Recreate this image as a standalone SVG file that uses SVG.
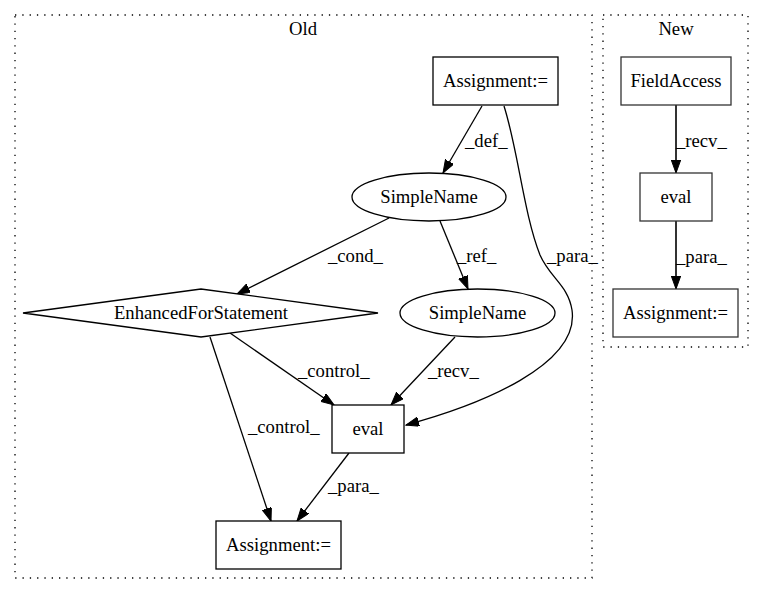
<svg xmlns="http://www.w3.org/2000/svg" width="765" height="596" viewBox="0 0 765 596" font-family="'Liberation Serif', 'Times New Roman', Times, serif">
<defs>
<style>
text{font-family:'Liberation Serif','Times New Roman',Times,serif;font-size:18.67px;fill:#000}
.c{text-anchor:middle}
.n{fill:#fff;stroke:#000;stroke-width:1.3}
.cl{fill:none;stroke:#000;stroke-width:1.3;stroke-dasharray:1.3,6}
.e{fill:none;stroke:#000;stroke-width:1.3;marker-end:url(#ah)}
.e2{fill:none;stroke:#333;stroke-width:2;marker-end:url(#ah2)}
</style>
<marker id="ah" markerUnits="userSpaceOnUse" markerWidth="14" markerHeight="10" refX="13" refY="4.7" orient="auto">
<path d="M0,0 L13,4.7 L0,9.4 z" fill="#000" stroke="#000" stroke-width="1"/>
</marker>
<marker id="ah2" markerUnits="userSpaceOnUse" markerWidth="14" markerHeight="10" refX="13" refY="4.7" orient="auto">
<path d="M0,0 L13,4.7 L0,9.4 z" fill="#000" stroke="#000" stroke-width="1"/>
</marker>
</defs>
<rect width="765" height="596" fill="#fff"/>
<g id="cluster_old">
<rect class="cl" x="15" y="15" width="577" height="563"/>
<text class="c" x="303" y="35">Old</text>
</g>
<g id="cluster_new">
<rect class="cl" x="603" y="15" width="145" height="332"/>
<text class="c" x="676" y="35">New</text>
</g>
<g id="edges">
<path class="e" d="M482,106 L443,173"/>
<text x="465" y="147">_def_</text>
<path class="e" d="M504,106 C518,150 524,215 540,255 C550,278 568,285 572,310 C580,365 480,405 406,425"/>
<text x="547" y="262">_para_</text>
<path class="e" d="M389,218 L237,294"/>
<text x="328" y="262">_cond_</text>
<path class="e" d="M440,221 L468,289"/>
<text x="457" y="262">_ref_</text>
<path class="e" d="M230,333 L334,405"/>
<text x="298" y="377">_control_</text>
<path class="e" d="M455,337 L391,405"/>
<text x="428" y="377">_recv_</text>
<path class="e" d="M210,337 L271,521"/>
<text x="248" y="433">_control_</text>
<path class="e" d="M349,453 L297,521"/>
<text x="328" y="492">_para_</text>
<path class="e2" d="M676,105 L676,173"/>
<text x="676" y="147">_recv_</text>
<path class="e2" d="M676,221 L676,289"/>
<text x="676" y="263">_para_</text>
</g>
<g id="old_assign_top">
<rect class="n" x="433" y="57" width="125" height="48"/>
<text class="c" x="495.5" y="87">Assignment:=</text>
</g>
<g id="old_simplename1">
<ellipse class="n" cx="429" cy="197" rx="77" ry="24"/>
<text class="c" x="429" y="203">SimpleName</text>
</g>
<g id="old_enhancedfor">
<polygon class="n" points="23,313 201,289 378,313 201,337"/>
<text class="c" x="201" y="319">EnhancedForStatement</text>
</g>
<g id="old_simplename2">
<ellipse class="n" cx="477.5" cy="313" rx="77.5" ry="24"/>
<text class="c" x="477.5" y="319">SimpleName</text>
</g>
<g id="old_eval">
<rect class="n" x="332" y="405" width="72" height="48"/>
<text class="c" x="368" y="435">eval</text>
</g>
<g id="old_assign_bottom">
<rect class="n" x="216" y="521" width="125" height="48"/>
<text class="c" x="278.5" y="551">Assignment:=</text>
</g>
<g id="new_fieldaccess">
<rect class="n" x="621" y="57" width="110" height="48" style="stroke:#333"/>
<text class="c" x="676" y="87">FieldAccess</text>
</g>
<g id="new_eval">
<rect class="n" x="640" y="173" width="72" height="48" style="stroke:#333"/>
<text class="c" x="676" y="203">eval</text>
</g>
<g id="new_assign">
<rect class="n" x="613" y="289" width="125" height="48" style="stroke:#333"/>
<text class="c" x="675.5" y="319">Assignment:=</text>
</g>
</svg>
